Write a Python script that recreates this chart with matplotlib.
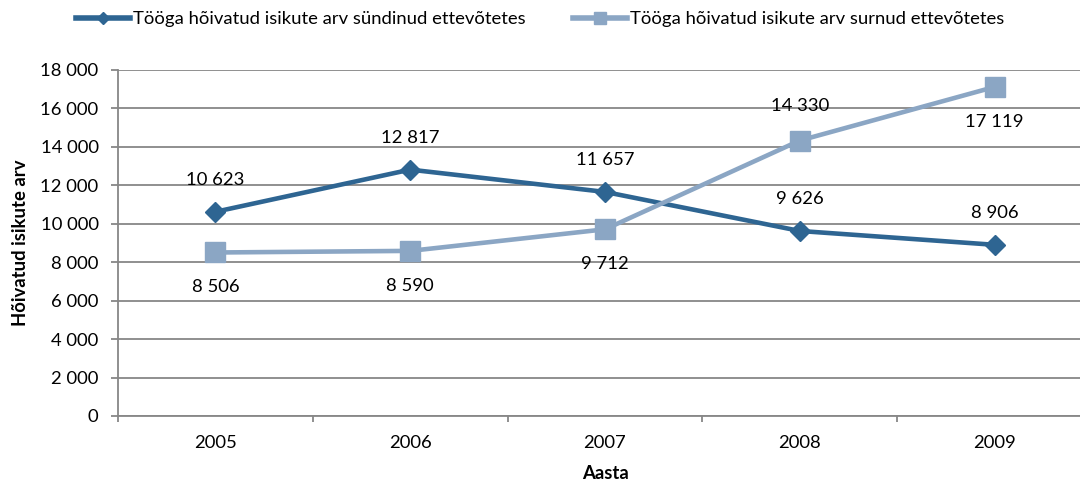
import matplotlib
matplotlib.use("Agg")
import matplotlib.pyplot as plt
from matplotlib.ticker import FuncFormatter, FixedLocator

years = ["2005", "2006", "2007", "2008", "2009"]
born = [10623, 12817, 11657, 9626, 8906]
died = [8506, 8590, 9712, 14330, 17119]
born_label = "Tööga hõivatud isikute arv sündinud ettevõtetes"
died_label = "Tööga hõivatud isikute arv surnud ettevõtetes"
# label placement: +1 above point, -1 below
born_pos = [1, 1, 1, 1, 1]
died_pos = [-1, -1, -1, 1, -1]

plt.rcParams['font.family'] = ['Lato', 'DejaVu Sans']

c1 = "#2E6592"
c2 = "#8BA6C4"
grid_c = "#878787"
fs = 13.3

fig = plt.figure(figsize=(10.8, 4.87), dpi=100)
ax = fig.add_axes([118/1080, 71/487, 974/1080, 346/487])

x = list(range(len(years)))
ax.plot(x, born, color=c1, lw=3.3, marker="D", ms=10, label=born_label, zorder=3)
ax.plot(x, died, color=c2, lw=3.3, marker="s", ms=14, label=died_label, zorder=3)

def fmt(v):
    return f"{v:,}".replace(",", " ")

for xi, v, p in zip(x, born, born_pos):
    ax.annotate(fmt(v), (xi, v), xytext=(0, 23*p), textcoords="offset points",
                ha="center", va="center", fontsize=fs)
for xi, v, p in zip(x, died, died_pos):
    ax.annotate(fmt(v), (xi, v), xytext=(0, 25*p), textcoords="offset points",
                ha="center", va="center", fontsize=fs)

ax.set_xlim(-0.5, len(years) - 0.5)
ax.set_ylim(0, 18000)
ax.set_yticks(range(0, 18001, 2000))
ax.yaxis.set_major_formatter(FuncFormatter(lambda v, p: fmt(int(v))))
ax.set_xticks(x)
ax.set_xticklabels(years)
ax.xaxis.set_minor_locator(FixedLocator([i - 0.5 for i in range(len(years) + 1)]))
ax.tick_params(axis="x", which="major", length=0, pad=14, labelsize=fs)
ax.tick_params(axis="x", which="minor", length=4.5, color=grid_c, width=1.3)
ax.tick_params(axis="y", length=5, color=grid_c, width=1.3, labelsize=fs, pad=9)
ax.grid(axis="y", color=grid_c, lw=1.3)
ax.set_axisbelow(True)
for s in ["top", "right"]:
    ax.spines[s].set_visible(False)
for s in ["left", "bottom"]:
    ax.spines[s].set_color(grid_c)
    ax.spines[s].set_linewidth(1.3)

ax.set_ylabel("Hõivatud isikute arv", fontsize=fs, fontweight="bold", labelpad=8)
ax.set_xlabel("Aasta", fontsize=fs, fontweight="bold", labelpad=10)

leg = fig.legend(loc="upper center", bbox_to_anchor=(0.5, 1.0), ncol=2, frameon=False,
                 fontsize=fs, handlelength=2.9, handletextpad=0.15, columnspacing=2.6,
                 borderaxespad=0.2, markerscale=0.65)
for h in leg.get_lines():
    h.set_linewidth(4)

fig.savefig("out.png", dpi=100)
